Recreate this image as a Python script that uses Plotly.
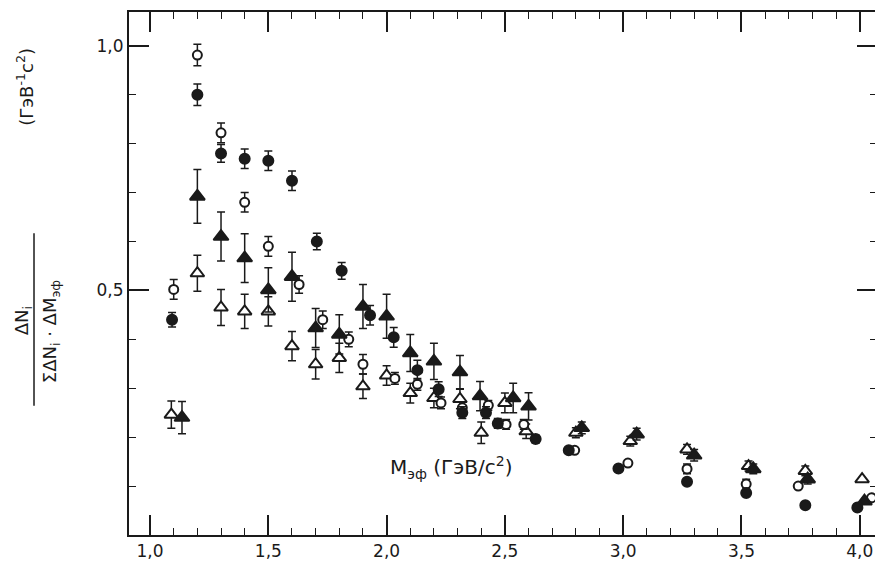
import plotly.graph_objects as go

# ● filled circles
x_fc = [1.093, 1.20, 1.30, 1.40, 1.50, 1.60, 1.705, 1.81, 1.93, 2.03, 2.13, 2.22, 2.32, 2.42, 2.47, 2.63, 2.77, 2.98, 3.27, 3.52, 3.77, 3.99]
y_fc = [0.44, 0.90, 0.78, 0.769, 0.765, 0.724, 0.60, 0.54, 0.449, 0.404, 0.337, 0.298, 0.25, 0.25, 0.228, 0.196, 0.173, 0.136, 0.109, 0.086, 0.061, 0.056]
e_fc = [0.015, 0.022, 0.018, 0.02, 0.02, 0.02, 0.017, 0.017, 0.02, 0.02, 0.02, 0.015, 0.012, 0.012, 0.01, 0.008, 0, 0, 0, 0, 0, 0]

# ○ open circles
x_oc = [1.10, 1.20, 1.30, 1.40, 1.50, 1.63, 1.73, 1.84, 1.90, 2.035, 2.13, 2.23, 2.32, 2.43, 2.505, 2.58, 2.795, 3.02, 3.27, 3.52, 3.74, 4.05]
y_oc = [0.502, 0.981, 0.822, 0.68, 0.59, 0.512, 0.44, 0.40, 0.349, 0.32, 0.308, 0.27, 0.26, 0.265, 0.226, 0.226, 0.173, 0.147, 0.135, 0.104, 0.10, 0.076]
e_oc = [0.02, 0.022, 0.02, 0.02, 0.02, 0.018, 0.018, 0.015, 0.02, 0.012, 0.012, 0.012, 0.012, 0.01, 0.01, 0.01, 0, 0, 0.01, 0.01, 0, 0]

# ▲ filled triangles
x_ft = [1.135, 1.20, 1.30, 1.40, 1.50, 1.60, 1.70, 1.80, 1.90, 2.00, 2.10, 2.20, 2.31, 2.395, 2.535, 2.60, 2.825, 3.057, 3.30, 3.55, 3.78, 4.02]
y_ft = [0.24, 0.692, 0.61, 0.566, 0.501, 0.528, 0.423, 0.41, 0.467, 0.447, 0.372, 0.355, 0.333, 0.284, 0.28, 0.263, 0.219, 0.206, 0.163, 0.135, 0.114, 0.069]
e_ft = [0.033, 0.055, 0.05, 0.05, 0.045, 0.05, 0.04, 0.04, 0.045, 0.045, 0.038, 0.037, 0.034, 0.03, 0.03, 0.028, 0.012, 0.012, 0.012, 0.01, 0.01, 0]

# △ open triangles
x_ot = [1.09, 1.20, 1.30, 1.40, 1.50, 1.60, 1.70, 1.80, 1.90, 2.00, 2.10, 2.20, 2.31, 2.40, 2.50, 2.59, 2.80, 3.03, 3.27, 3.53, 3.77, 4.01]
y_ot = [0.246, 0.535, 0.465, 0.457, 0.457, 0.386, 0.349, 0.362, 0.304, 0.326, 0.29, 0.28, 0.278, 0.209, 0.27, 0.212, 0.209, 0.192, 0.175, 0.141, 0.131, 0.114]
e_ot = [0.028, 0.037, 0.037, 0.035, 0.03, 0.03, 0.03, 0.03, 0.025, 0.02, 0.02, 0.02, 0.02, 0.022, 0.02, 0.015, 0.01, 0.01, 0.01, 0.01, 0.01, 0]

x_tickvals = [1.0, 1.5, 2.0, 2.5, 3.0, 3.5, 4.0]
x_ticktext = ["1,0", "1,5", "2,0", "2,5", "3,0", "3,5", "4,0"]
y_tickvals = [0.5, 1.0]
y_ticktext = ["0,5", "1,0"]

FONT = "DejaVu Sans"
INK = "#1a1a1a"

fig = go.Figure()

def add(xs, ys, es, symbol, fill, size):
    fig.add_trace(go.Scatter(
        x=xs, y=ys, mode="markers",
        marker=dict(symbol=symbol, size=size, color=fill,
                    line=dict(color=INK, width=2)),
        error_y=dict(type="data", array=es, visible=True,
                     color=INK, thickness=1.5, width=4),
        showlegend=False,
    ))

add(x_ot, y_ot, e_ot, "triangle-up", "white", 12)
add(x_oc, y_oc, e_oc, "circle", "white", 9)
add(x_ft, y_ft, e_ft, "triangle-up", INK, 13)
add(x_fc, y_fc, e_fc, "circle", INK, 10)

axis_common = dict(
    showgrid=False, zeroline=False, showline=True, linecolor=INK, linewidth=2,
    mirror="allticks", ticks="inside", tickcolor=INK, tickwidth=1.5,
    tickfont=dict(family=FONT, size=17, color=INK),
)

fig.update_xaxes(
    range=[0.911, 4.073], tickvals=x_tickvals, ticktext=x_ticktext, ticklen=20,
    minor=dict(dtick=0.1, tick0=1.0, ticks="inside", ticklen=7, tickcolor=INK, tickwidth=1.2),
    **axis_common,
)
fig.update_yaxes(
    range=[0.0, 1.069], tickvals=y_tickvals, ticktext=y_ticktext, ticklen=20,
    minor=dict(dtick=0.1, tick0=0.0, ticks="inside", ticklen=7, tickcolor=INK, tickwidth=1.2),
    **axis_common,
)

fig.add_annotation(
    xref="paper", yref="paper", x=0.43, y=0.13, xanchor="center", yanchor="middle",
    text="M<sub>эф</sub> (ГэВ/c<sup>2</sup>)", showarrow=False,
    font=dict(family=FONT, size=20, color=INK),
)
# y-axis label as a fraction
fig.add_annotation(
    xref="paper", yref="paper", x=-0.142, y=0.41, textangle=-90,
    xanchor="center", yanchor="middle",
    text="ΔN<sub>i</sub>", showarrow=False,
    font=dict(family=FONT, size=18, color=INK),
)
fig.add_annotation(
    xref="paper", yref="paper", x=-0.104, y=0.39, textangle=-90,
    xanchor="center", yanchor="middle",
    text="ΣΔN<sub>i</sub> · ΔM<sub>эф</sub>", showarrow=False,
    font=dict(family=FONT, size=18, color=INK),
)
fig.add_shape(
    type="line", xref="paper", yref="paper", x0=-0.127, x1=-0.127, y0=0.247, y1=0.577,
    line=dict(color=INK, width=1.5),
)
fig.add_annotation(
    xref="paper", yref="paper", x=-0.139, y=0.857, textangle=-90,
    xanchor="center", yanchor="middle",
    text="(ГэВ<sup>-1</sup>c<sup>2</sup>)", showarrow=False,
    font=dict(family=FONT, size=18, color=INK),
)

fig.update_layout(
    width=875, height=560,
    margin=dict(l=121, r=6, t=2, b=33),
    paper_bgcolor="white", plot_bgcolor="white",
    font=dict(family=FONT, color=INK),
)

fig.write_html("out.html")
